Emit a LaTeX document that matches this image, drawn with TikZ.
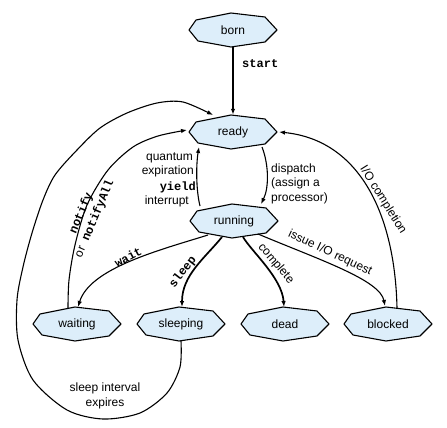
\documentclass[tikz,border=0pt]{standalone}
\usepackage{fontspec}
\setmainfont{Liberation Sans}
\newfontfamily\codefont{Liberation Mono}
\usetikzlibrary{arrows.meta,backgrounds}
\definecolor{statefill}{RGB}{221,238,250}
\tikzset{
  state/.style={shape=rectangle, minimum width=88pt, minimum height=34pt, inner sep=0pt,
    font=\fontsize{12}{14}\selectfont},
  stateline/.style={draw=black, line width=1.1pt, fill=statefill, line join=round},
  conn/.style={line width=1.1pt, -{Latex[length=6pt,width=4.5pt]}},
  heavy/.style={line width=1.7pt},
  lbl/.style={font=\fontsize{12}{14.5}\selectfont, inner sep=0pt},
  code/.style={font=\codefont\bfseries\fontsize{12}{14.5}\selectfont, inner sep=0pt}
}
% flattened octagon drawn around a state node
\newcommand\stateoutline[1]{%
  \path[stateline] ([shift={(-44,0)}]#1.center) -- ([shift={(-37,-10)}]#1.center)
    -- ([shift={(-2,-17)}]#1.center) -- ([shift={(32,-13)}]#1.center)
    -- ([shift={(44,0)}]#1.center) -- ([shift={(32,12)}]#1.center)
    -- ([shift={(-2,17)}]#1.center) -- ([shift={(-35,11)}]#1.center) -- cycle;}
\begin{document}
\begin{tikzpicture}[x=1pt,y=-1pt]
\useasboundingbox (0,0) rectangle (447,428);
% states
\node[state] (born)     at (233,30)  {born};
\node[state] (ready)    at (233,132) {ready};
\node[state] (running)  at (234,221) {running};
\node[state] (waiting)  at (77,324)  {waiting};
\node[state] (sleeping) at (181,324) {sleeping};
\node[state] (dead)     at (285,324) {dead};
\node[state] (blocked)  at (388,324) {blocked};
\begin{scope}[on background layer]
  \stateoutline{born}
  \stateoutline{ready}
  \stateoutline{running}
  \stateoutline{waiting}
  \stateoutline{sleeping}
  \stateoutline{dead}
  \stateoutline{blocked}
\end{scope}
% transitions
\draw[conn,heavy] (born.south) -- (ready.north);
\node[code,anchor=base west] (lstart) at (242,67) {start};

\draw[conn] ([shift={(29,15)}]ready.center) .. controls (269,165) and (269,188) .. ([shift={(27,-17)}]running.center);
\node[lbl,anchor=base west] (ldisp1) at (271,172) {dispatch};
\node[lbl,anchor=base west] (ldisp2) at (271,186.5) {(assign a};
\node[lbl,anchor=base west] (ldisp3) at (271,201) {processor)};

\draw[conn] ([shift={(-34,-15)}]running.center) .. controls (196,190) and (196,165) .. ([shift={(-34,15)}]ready.center);
\node[lbl,anchor=base east] (lquant) at (193,160) {quantum};
\node[lbl,anchor=base east] (lexp) at (194,174.5) {expiration};
\node[code,anchor=base east] (lyield) at (196,190) {yield};
\node[lbl,anchor=base east] (lint) at (189,204) {interrupt};

\draw[conn] plot[smooth] coordinates {([shift={(-9,-16)}]waiting.center) (69,280) (75,245) (87,205) (108,170) (133,147) (158,136) ([shift={(-46,-2)}]ready.center)};
\node[code,rotate=67,align=center] (lnotify) at (88,216) {notify\\{\rmfamily\mdseries or} notifyAll};

\draw[conn] ([shift={(-26,14)}]running.center) .. controls (160,250) and (90,268) .. ([shift={(1,-17)}]waiting.center);
\node[code,rotate=28] (lwait) at (128,257) {wait};

\draw[conn,heavy] ([shift={(-12,16)}]running.center) .. controls (205,258) and (182,275) .. ([shift={(1,-17)}]sleeping.center);
\node[code,rotate=52] (lsleep) at (183,272) {sleep};

\draw[conn,heavy] ([shift={(9,16)}]running.center) .. controls (252,252) and (282,278) .. ([shift={(-1,-17)}]dead.center);
\node[lbl,rotate=-50] (lcomplete) at (276,264) {complete};

\draw[conn] ([shift={(24,13)}]running.center) .. controls (320,260) and (380,280) .. ([shift={(-3,-18)}]blocked.center);
\node[lbl,rotate=-25] (lissue) at (330,253) {issue I/O request};

\draw[conn] ([shift={(9,-16)}]blocked.center) .. controls (395,215) and (360,140) .. ([shift={(46,0)}]ready.center);
\node[lbl,rotate=-58] (lio) at (383,200) {I/O completion};

\draw[conn] plot[smooth] coordinates {([shift={(0,17)}]sleeping.center) (180,367) (167,393) (140,413) (103,419) (67,410) (33,380) (18,340) (17,300) (23,267) (32,233) (43,200) (55,175) (77,150) (100,128) (127,113) (157,103) (183,102) ([shift={(-20,-17)}]ready.center)};
\node[lbl,align=center] (lsleepint) at (105,396) {sleep interval\\expires};
\end{tikzpicture}
\end{document}
